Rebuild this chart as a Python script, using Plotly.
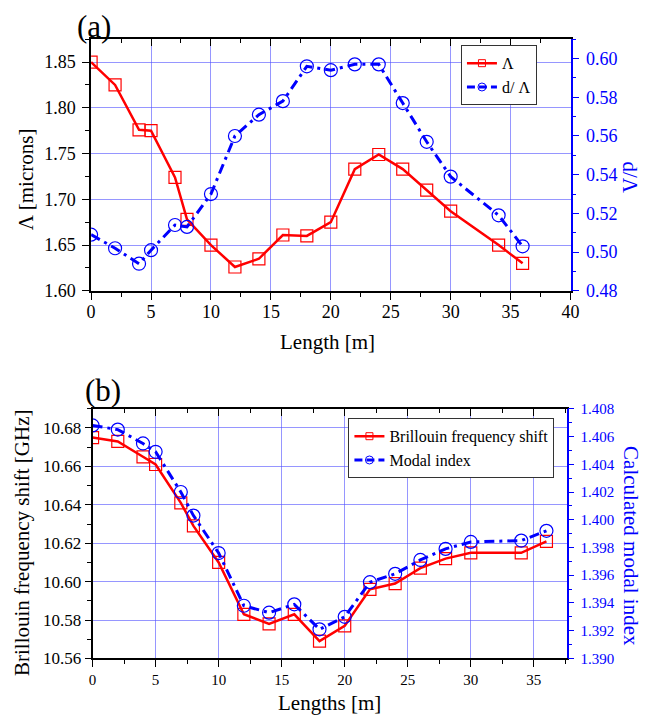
import plotly.graph_objects as go

# ---------------- data ----------------
length_a = [0, 2, 4, 5, 7, 8, 10, 12, 14, 16, 18, 20, 22, 24, 26, 28, 30, 34, 36]
pitch = [1.850, 1.825, 1.776, 1.775, 1.724, 1.678, 1.650, 1.626, 1.635, 1.661,
         1.660, 1.675, 1.733, 1.749, 1.733, 1.710, 1.687, 1.650, 1.630]
d_over_pitch = [0.509, 0.502, 0.494, 0.501, 0.514, 0.513, 0.530, 0.560, 0.571, 0.578,
                0.596, 0.594, 0.597, 0.597, 0.577, 0.557, 0.539, 0.519, 0.503]

length_b = [0, 2, 4, 5, 7, 8, 10, 12, 14, 16, 18, 20, 22, 24, 26, 28, 30, 34, 36]
bfs = [10.675, 10.673, 10.665, 10.661, 10.641, 10.629, 10.610, 10.583, 10.578, 10.583,
       10.569, 10.577, 10.596, 10.599, 10.607, 10.612, 10.615, 10.615, 10.621]
modal_index = [1.4068, 1.4065, 1.4055, 1.4049, 1.4020, 1.4003, 1.3976, 1.3938, 1.3933, 1.3939,
               1.3921, 1.3930, 1.3955, 1.3961, 1.3971, 1.3979, 1.3984, 1.3985, 1.3992]

W, H = 649, 725
FONT = "Liberation Serif"
RED = "#ff0000"
BLUE = "#0000ff"
GRID = "rgba(80,80,255,0.6)"
DASH = "10px,5px,3px,5px"

def px(x):
    return x / W

def py(y):
    return 1 - y / H

fig = go.Figure()

# ---- (a) ----
fig.add_trace(go.Scatter(x=length_a, y=pitch, xaxis="x", yaxis="y", mode="lines+markers",
                         line=dict(color=RED, width=2.5),
                         marker=dict(symbol="square-open", size=12, color=RED, line=dict(width=1.2)),
                         showlegend=False))
fig.add_trace(go.Scatter(x=length_a, y=d_over_pitch, xaxis="x", yaxis="y2", mode="lines+markers",
                         line=dict(color=BLUE, width=3, dash=DASH),
                         marker=dict(symbol="circle-open", size=13, color=BLUE, line=dict(width=1.2)),
                         showlegend=False))
fig.add_trace(go.Scatter(x=[None], y=[None], xaxis="x", yaxis="y", mode="lines+markers", name="Λ",
                         line=dict(color=RED, width=2.5),
                         marker=dict(symbol="square-open", size=7, color=RED, line=dict(width=1)),
                         legend="legend"))
fig.add_trace(go.Scatter(x=[None], y=[None], xaxis="x", yaxis="y2", mode="lines+markers", name="d/ Λ",
                         line=dict(color=BLUE, width=3, dash="8px,4px"),
                         marker=dict(symbol="circle-open-dot", size=8, color=BLUE, line=dict(width=1)),
                         legend="legend"))
fig.add_trace(go.Scatter(x=[None], y=[None], xaxis="x3", yaxis="y", showlegend=False, hoverinfo="skip"))

# ---- (b) ----
fig.add_trace(go.Scatter(x=length_b, y=bfs, xaxis="x2", yaxis="y3", mode="lines+markers",
                         line=dict(color=RED, width=2.5),
                         marker=dict(symbol="square-open", size=12, color=RED, line=dict(width=1.2)),
                         showlegend=False))
fig.add_trace(go.Scatter(x=length_b, y=modal_index, xaxis="x2", yaxis="y4", mode="lines+markers",
                         line=dict(color=BLUE, width=3, dash=DASH),
                         marker=dict(symbol="circle-open", size=13, color=BLUE, line=dict(width=1.2)),
                         showlegend=False))
fig.add_trace(go.Scatter(x=[None], y=[None], xaxis="x2", yaxis="y3", mode="lines+markers",
                         name="Brillouin frequency shift",
                         line=dict(color=RED, width=2.5),
                         marker=dict(symbol="square-open", size=7, color=RED, line=dict(width=1)),
                         legend="legend2"))
fig.add_trace(go.Scatter(x=[None], y=[None], xaxis="x2", yaxis="y4", mode="lines+markers",
                         name="Modal index",
                         line=dict(color=BLUE, width=3, dash="8px,4px"),
                         marker=dict(symbol="circle-open-dot", size=8, color=BLUE, line=dict(width=1)),
                         legend="legend2"))
fig.add_trace(go.Scatter(x=[None], y=[None], xaxis="x4", yaxis="y3", showlegend=False, hoverinfo="skip"))

dom_a_x = [px(88), px(578)]
dom_a_y = [py(290), py(32)]
dom_b_x = [px(89.5), px(574)]
dom_b_y = [py(667), py(411)]

def xaxis_common(rng, dom, anchor, size, standoff):
    return dict(domain=dom, anchor=anchor, range=rng, dtick=5, tick0=0,
                showline=True, linecolor="black", linewidth=1.6,
                ticks="outside", ticklen=7, tickwidth=1.4, tickcolor="black",
                minor=dict(dtick=2.5, tick0=0, ticks="outside", ticklen=4, tickwidth=1.2,
                           tickcolor="black", showgrid=False),
                showgrid=True, gridcolor=GRID, gridwidth=1, ticklabelstandoff=standoff,
                zeroline=False, tickfont=dict(family=FONT, size=size, color="black"))

def top_overlay(over, anchor, rng):
    return dict(overlaying=over, anchor=anchor, side="top", range=rng, dtick=5, tick0=0,
                showline=True, linecolor="black", linewidth=1.6,
                ticks="inside", ticklen=7, tickwidth=1.4, tickcolor="black",
                minor=dict(dtick=2.5, tick0=0, ticks="inside", ticklen=4, tickwidth=1.2,
                           tickcolor="black"),
                showgrid=False, zeroline=False, showticklabels=False)

fig.update_layout(
    width=W, height=H,
    margin=dict(l=0, r=0, t=0, b=0),
    paper_bgcolor="white", plot_bgcolor="white",
    font=dict(family=FONT, color="black"),
    xaxis=xaxis_common([0, 40], dom_a_x, "y", 18, -3),
    xaxis3=top_overlay("x", "y", [0, 40]),
    yaxis=dict(domain=dom_a_y, anchor="x", range=[1.60, 1.875], dtick=0.05, tick0=1.6,
               tickformat=".2f",
               showline=True, linecolor="black", linewidth=1.6,
               ticks="outside", ticklen=7, tickwidth=1.4, tickcolor="black",
               minor=dict(dtick=0.025, tick0=1.6, ticks="outside", ticklen=4, tickwidth=1.2,
                          tickcolor="black", showgrid=False),
               showgrid=True, gridcolor=GRID, gridwidth=1, zeroline=False,
               ticklabelstandoff=3,
               tickfont=dict(family=FONT, size=18, color="black")),
    yaxis2=dict(overlaying="y", anchor="x", side="right", range=[0.48, 0.61], dtick=0.02, tick0=0.48,
                tickformat=".2f",
                showline=True, linecolor=BLUE, linewidth=1.6,
                ticks="outside", ticklen=7, tickwidth=1.4, tickcolor=BLUE,
                minor=dict(dtick=0.01, tick0=0.48, ticks="outside", ticklen=4, tickwidth=1.2,
                           tickcolor=BLUE, showgrid=False),
                showgrid=False, zeroline=False, ticklabelstandoff=3,
                tickfont=dict(family=FONT, size=18, color=BLUE)),
    xaxis2=xaxis_common([0, 37.6], dom_b_x, "y3", 15, 0),
    xaxis4=top_overlay("x2", "y3", [0, 37.6]),
    yaxis3=dict(domain=dom_b_y, anchor="x2", range=[10.56, 10.69], dtick=0.02, tick0=10.56,
                tickformat=".2f",
                showline=True, linecolor="black", linewidth=1.6,
                ticks="outside", ticklen=6, tickwidth=1.4, tickcolor="black",
                minor=dict(dtick=0.01, tick0=10.56, ticks="outside", ticklen=4, tickwidth=1.2,
                           tickcolor="black", showgrid=False),
                showgrid=True, gridcolor=GRID, gridwidth=1, zeroline=False,
                ticklabelstandoff=0,
                tickfont=dict(family=FONT, size=17, color="black")),
    yaxis4=dict(overlaying="y3", anchor="x2", side="right", range=[1.390, 1.408], dtick=0.002,
                tick0=1.390, tickformat=".3f",
                showline=True, linecolor=BLUE, linewidth=1.6,
                ticks="outside", ticklen=6, tickwidth=1.4, tickcolor=BLUE,
                minor=dict(dtick=0.001, tick0=1.390, ticks="outside", ticklen=4, tickwidth=1.2,
                           tickcolor=BLUE, showgrid=False),
                showgrid=False, zeroline=False, ticklabelstandoff=3,
                tickfont=dict(family=FONT, size=15, color=BLUE)),
    legend=dict(x=px(466), y=py(69), xanchor="left", yanchor="middle",
                bgcolor="white", bordercolor="#333333", borderwidth=1,
                font=dict(family=FONT, size=16, color="black"), tracegroupgap=0),
    legend2=dict(x=px(351), y=py(451.5), xanchor="left", yanchor="middle",
                 bgcolor="white", bordercolor="#333333", borderwidth=1,
                 font=dict(family=FONT, size=16, color="black"), tracegroupgap=0),
)

ann = [
    dict(text="(a)", x=px(91), y=py(19), font=dict(size=31)),
    dict(text="(b)", x=px(100), y=py(392), font=dict(size=31)),
    dict(text="Length [m]", x=px(330), y=py(343), font=dict(size=21)),
    dict(text="Λ [microns]", x=px(21), y=py(176), font=dict(size=21), textangle=-90),
    dict(text="d/Λ", x=px(639), y=py(174), font=dict(size=21, color=BLUE), textangle=90),
    dict(text="Lengths [m]", x=px(332), y=py(713), font=dict(size=21)),
    dict(text="Brillouin frequency shift [GHz]", x=px(18), y=py(548), font=dict(size=21),
         textangle=-90),
    dict(text="Calculated modal index", x=px(639), y=py(552), font=dict(size=21, color=BLUE),
         textangle=90),
]
for a in ann:
    f = dict(family=FONT, color="black")
    f.update(a.pop("font"))
    fig.add_annotation(xref="paper", yref="paper", xanchor="center", yanchor="middle",
                       showarrow=False, font=f, **a)

# remove the browser's default 8px body margin so the figure sits at the page origin
fig.write_html("out.html",
               config={"displayModeBar": False},
               post_script="document.body.style.margin='0';document.body.style.overflow='hidden';")
